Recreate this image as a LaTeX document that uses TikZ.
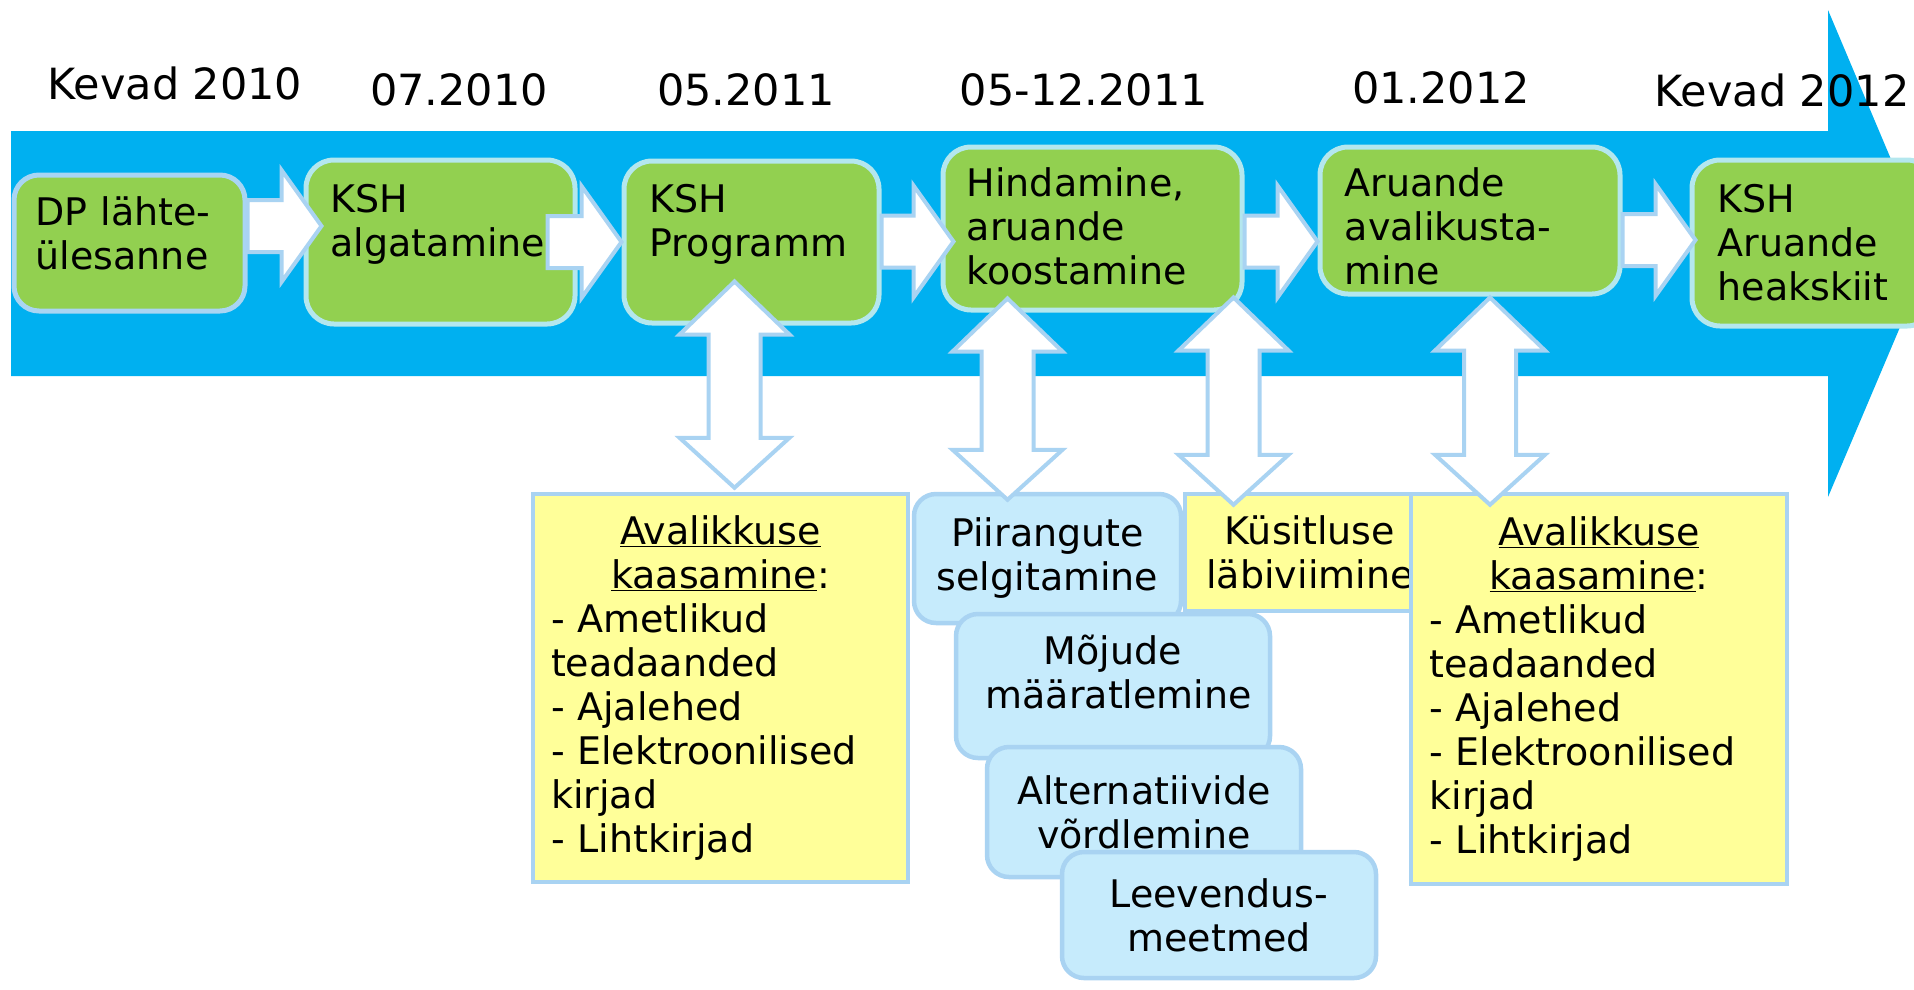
\documentclass[tikz,border=0pt]{standalone}
\usepackage{fontspec}
\setmainfont{DejaVu Sans}
\usetikzlibrary{calc,positioning}

\definecolor{bandblue}{HTML}{00B0F0}
\definecolor{stepgreen}{HTML}{92D050}
\definecolor{greenedge}{HTML}{B4E7EE}
\definecolor{greenedgeA}{HTML}{A9D5F3}
\definecolor{paleedge}{HTML}{A9D3F2}
\definecolor{notefill}{HTML}{FFFF99}
\definecolor{taskfill}{HTML}{C6EBFC}

% block arrow from one box to the next (tip at #2)
\newcommand{\hconn}[2]{%
  \draw[blockarrow] let \p1=(#1), \p2=(#2) in
    (\x1,\y2+26pt) -- (\x2-40pt,\y2+26pt) -- (\x2-40pt,\y2+56pt) -- (\x2,\y2)
    -- (\x2-40pt,\y2-56pt) -- (\x2-40pt,\y2-26pt) -- (\x1,\y2-26pt) -- cycle;}
% double block arrow, top tip #1, bottom tip at the height of #2
\newcommand{\vconn}[2]{%
  \draw[blockarrow] let \p1=(#1), \p2=(#2) in
    (\x1,\y1) -- (\x1+55pt,\y1-53pt) -- (\x1+26pt,\y1-53pt) -- (\x1+26pt,\y2+50pt)
    -- (\x1+55pt,\y2+50pt) -- (\x1,\y2) -- (\x1-55pt,\y2+50pt) -- (\x1-26pt,\y2+50pt)
    -- (\x1-26pt,\y1-53pt) -- (\x1-55pt,\y1-53pt) -- cycle;}

\begin{document}
\begin{tikzpicture}[x=1pt,y=-1pt]
    \tikzstyle{every node} = [font=\fontsize{38}{44}\selectfont]
    \tikzstyle{stage} = [draw=greenedge, fill=stepgreen, line width=5pt, rectangle, rounded corners=28pt, inner sep=0pt]
    \tikzstyle{stagetext} = [anchor=base west, inner sep=0pt, text width=320pt, align=left]
    \tikzstyle{date} = [anchor=base, inner sep=0pt, font=\fontsize{43}{50}\selectfont]
    \tikzstyle{blockarrow} = [draw=paleedge, fill=white, line width=4pt]
    \tikzstyle{note} = [draw=paleedge, fill=notefill, line width=4.5pt, rectangle, inner sep=0pt]
    \tikzstyle{task} = [draw=paleedge, fill=taskfill, line width=4.5pt, rectangle, rounded corners=22pt, inner sep=0pt, text width=255pt, align=center]

    \useasboundingbox (0,0) rectangle (1914,989);
    \clip (0,0) rectangle (1914,989);

    % time line
    \fill[bandblue] (11,131) -- (1828,131) -- (1828,10) -- (1931,254) -- (1828,497) -- (1828,376) -- (11,376) -- cycle;

    \node[date] (d1) at (175,99) {Kevad 2010};
    \node[date] (d2) at (459,105) {07.2010};
    \node[date] (d3) at (746,105) {05.2011};
    \node[date] (d4) at (1084,105) {05-12.2011};
    \node[date] (d5) at (1441,103) {01.2012};
    \node[date] (d6) at (1782,106) {Kevad 2012};

    % place nodes
    \node[stage, draw=greenedgeA, rounded corners=25pt, minimum width=231pt, minimum height=136pt] (b1) at (129.5,243) {};
    \node[stagetext] (t1) at ($(b1.north west)+(24,53)$) {DP lähte-\\ülesanne};
    \node[stage, minimum width=269pt, minimum height=164pt] (b2) at (440.5,242) {};
    \node[stagetext] (t2) at ($(b2.north west)+(27,55)$) {KSH\\algatamine};
    \node[stage, minimum width=255pt, minimum height=162pt] (b3) at (751.5,242) {};
    \node[stagetext] (t3) at ($(b3.north west)+(28,54)$) {KSH\\Programm};
    \node[stage, minimum width=299pt, minimum height=163pt] (b4) at (1092.5,228.5) {};
    \node[stagetext] (t4) at ($(b4.north west)+(26,52)$) {Hindamine,\\aruande\\koostamine};
    \node[stage, minimum width=300pt, minimum height=147pt] (b5) at (1470,220.5) {};
    \node[stagetext] (t5) at ($(b5.north west)+(27,52)$) {Aruande\\avalikusta-\\mine};
    \node[stage, minimum width=243pt, minimum height=166pt] (b6) at (1813.5,243) {};
    \node[stagetext] (t6) at ($(b6.north west)+(28,55)$) {KSH\\Aruande\\heakskiit};

    % Connections
    \hconn{b1.east}{$(b2.west)+(18,-16)$}
    \hconn{$(b2.east)+(-30,0)$}{b3.west}
    \hconn{b3.east}{$(b4.west)+(13,13)$}
    \hconn{b4.east}{$(b5.west)+(0,21)$}
    \hconn{b5.east}{$(b6.west)+(6,-3)$}

    % public participation and assessment steps
    \node[note, minimum width=375pt, minimum height=388pt, text width=339pt, align=left] (pa) at (720.5,688)
      {{\centering\underline{Avalikkuse}\\\underline{kaasamine}:\par}- Ametlikud\\teadaanded\\- Ajalehed\\- Elektroonilised\\kirjad\\- Lihtkirjad};
    \node[task, minimum width=267pt, minimum height=129pt] (pr) at (1047.5,558.5) {Piirangute\\selgitamine};
    \node[note, minimum width=250pt, minimum height=117pt, text width=250pt, align=center] (ks) at (1310,552.5) {Küsitluse\\läbiviimine};
    \node[note, minimum width=376pt, minimum height=390pt, text width=339pt, align=left] (pb) at (1599,689)
      {{\centering\underline{Avalikkuse}\\\underline{kaasamine}:\par}- Ametlikud\\teadaanded\\- Ajalehed\\- Elektroonilised\\kirjad\\- Lihtkirjad};
    \node[task, minimum width=314pt, minimum height=144pt, text depth=72pt] (mo) at (1113,686) {Mõjude\\määratlemine};
    \node[task, minimum width=314pt, minimum height=130pt] (al) at (1144,812) {Alternatiivide\\võrdlemine};
    \node[task, minimum width=314pt, minimum height=126pt] (le) at (1219,915) {Leevendus-\\meetmed};

    \vconn{$(b3.south)+(-17,-44)$}{$(pa.north)+(0,-4)$}
    \vconn{$(b4.south)+(-85,-14)$}{$(pr.north)+(0,8)$}
    \vconn{$(b4.south)+(141,-15)$}{$(ks.north)+(0,13)$}
    \vconn{$(b5.south)+(20,1)$}{$(pb.north)+(0,13)$}
\end{tikzpicture}
\end{document}
